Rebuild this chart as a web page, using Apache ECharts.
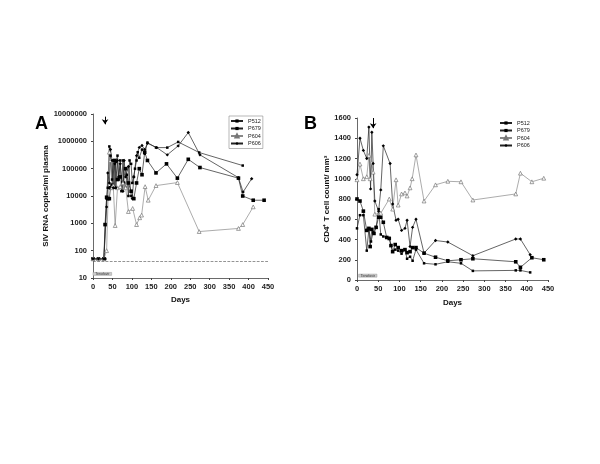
<!DOCTYPE html>
<html><head><meta charset="utf-8">
<script src="https://cdn.jsdelivr.net/npm/echarts@6/dist/echarts.min.js"></script>
<style>html,body{margin:0;padding:0;background:#fff}#c{width:600px;height:464px}</style>
</head><body><div id="c"></div>
<script>
// Panel A: SIV RNA copies/ml plasma, [day, value]
const A_P512 = [[0,50],[14,50],[28,50],[31,50],[35,8000],[38,20000],[42,650000],[45,300000],[49,40000],[52,200000],[56,20000],[59,180000],[63,300000],[66,40000],[70,200000],[73,15000],[77,200000],[80,30000],[84,20000],[87,60000],[91,10000],[94,200000],[98,150000],[101,30000],[105,50000],[108,100000],[112,200000],[115,400000],[119,250000],[126,500000],[133,350000],[140,900000],[162,590000],[191,590000],[219,950000],[273,390000],[385,130000]];
const A_P679 = [[0,50],[14,50],[28,50],[31,900],[35,9000],[38,8000],[42,8000],[45,20000],[49,25000],[56,200000],[63,40000],[70,50000],[77,30000],[84,100000],[91,30000],[98,15000],[105,8000],[112,30000],[119,100000],[126,60000],[133,400000],[140,200000],[162,70000],[189,150000],[217,45000],[245,220000],[275,110000],[374,45000],[385,10000],[412,7000],[440,7000]];
const A_P604 = [[0,50],[14,50],[28,50],[35,100],[42,400000],[45,200000],[49,20000],[52,24000],[57,830],[63,20000],[70,22000],[77,30000],[84,20000],[91,2700],[102,3500],[112,900],[120,1600],[125,2000],[134,22000],[142,7000],[162,24000],[217,31000],[273,500],[374,650],[385,900],[412,4000]];
const A_P606 = [[0,50],[14,50],[28,50],[31,50],[35,4000],[38,70000],[42,30000],[45,500000],[49,200000],[52,20000],[56,150000],[59,20000],[63,200000],[66,50000],[70,150000],[77,15000],[80,200000],[84,50000],[91,120000],[98,10000],[101,8000],[105,50000],[112,300000],[119,600000],[126,700000],[133,500000],[140,850000],[164,590000],[191,320000],[219,680000],[245,2100000],[275,320000],[374,47000],[386,14000],[408,43000]];
// Panel B: CD4+ T cell count / mm3, [day, value]
const B_P512 = [[0,510],[7,640],[15,640],[23,290],[28,500],[33,380],[38,470],[45,520],[51,700],[56,450],[62,430],[70,420],[76,415],[84,280],[90,300],[97,290],[105,260],[113,300],[118,210],[125,230],[131,190],[139,300],[158,165],[185,155],[214,180],[245,165],[273,90],[374,95],[385,95],[408,75]];
const B_P679 = [[0,800],[7,780],[15,680],[23,490],[28,510],[31,330],[35,500],[40,460],[45,520],[51,620],[56,620],[62,570],[70,420],[76,410],[80,340],[84,280],[90,350],[97,320],[105,290],[113,300],[118,270],[125,280],[131,320],[139,320],[158,265],[185,225],[214,190],[245,200],[273,210],[374,180],[385,125],[412,220],[440,200]];
const B_P604 = [[0,990],[7,1145],[15,1000],[23,1020],[28,1230],[31,1000],[35,1160],[38,1065],[42,650],[56,660],[76,800],[84,700],[92,990],[97,740],[105,850],[113,860],[118,830],[125,910],[130,1000],[139,1235],[158,780],[185,940],[214,975],[245,970],[273,790],[374,850],[385,1055],[412,970],[440,1005]];
const B_P606 = [[0,1040],[7,1400],[15,1280],[23,1200],[28,1510],[32,900],[35,1460],[38,1150],[42,780],[51,680],[56,890],[62,1325],[78,1150],[84,750],[92,590],[97,600],[105,490],[113,510],[118,590],[125,330],[131,520],[139,600],[158,265],[185,390],[214,375],[273,240],[374,405],[385,405],[408,250]];
const seriesNames = ['P512','P679','P604','P606'];
const xTicks = [0,450,50];
const yTicksA = [10,10000000];
const yTicksB = [0,1600,200];

const styles = {
  P512:{symbol:'rect',symbolSize:2.5,color:'#000',line:'#222'},
  P679:{symbol:'rect',symbolSize:3.6,color:'#000',line:'#222'},
  P604:{symbol:'triangle',symbolSize:3.8,color:'#fff',border:'#777',line:'#888'},
  P606:{symbol:'diamond',symbolSize:3.4,color:'#000',line:'#222'}
};
function mk(name, data, xi, yi){
  const s = styles[name];
  return {name, type:'line', xAxisIndex:xi, yAxisIndex:yi, data,
    symbol:s.symbol, symbolSize:s.symbolSize, showAllSymbol:true, animation:false,
    lineStyle:{width:0.7,color:s.line},
    itemStyle:{color:s.color,borderColor:s.border||s.color,borderWidth:s.border?0.7:0}};
}
const axisLbl = {fontSize:7.5,fontWeight:'bold',color:'#222',fontFamily:'Liberation Sans',formatter:v=>String(v)};
const nameSt = {fontSize:8,fontWeight:'bold',color:'#111',fontFamily:'Liberation Sans'};
const chart = echarts.init(document.getElementById('c'),null,{renderer:'canvas'});
const series = [
  mk('P512',A_P512,0,0), mk('P679',A_P679,0,0), mk('P604',A_P604,0,0), mk('P606',A_P606,0,0),
  mk('P512',B_P512,1,1), mk('P679',B_P679,1,1), mk('P604',B_P604,1,1), mk('P606',B_P606,1,1)
];
// annotations on panel A
series[0].markLine = {silent:true, symbol:'none', animation:false, label:{show:false},
  lineStyle:{type:'dashed',color:'#666',width:0.7}, data:[{yAxis:40}]};
series[1].markLine = {silent:true, symbol:['none','arrow'], symbolSize:5, animation:false, label:{show:false},
  lineStyle:{type:'solid',color:'#000',width:1}, data:[[{coord:[31,8000000]},{coord:[31,4200000]}]]};
series[2].markArea = {silent:true, animation:false, itemStyle:{color:'#ccc',borderColor:'#999',borderWidth:0.5},
  label:{show:true,position:'inside',fontSize:3.5,color:'#333',formatter:'Tenofovir'},
  data:[[{coord:[0,12.5]},{coord:[48,16]}]]};
// annotations on panel B
series[5].markLine = {silent:true, symbol:['none','arrow'], symbolSize:5, animation:false, label:{show:false},
  lineStyle:{type:'solid',color:'#000',width:1}, data:[[{coord:[38,1600]},{coord:[38,1500]}]]};
series[6].markArea = {silent:true, animation:false, itemStyle:{color:'#ccc',borderColor:'#999',borderWidth:0.5},
  label:{show:true,position:'inside',fontSize:3.5,color:'#333',formatter:'Tenofovir'},
  data:[[{coord:[4,28]},{coord:[47,58]}]]};

chart.setOption({
  animation:false,
  backgroundColor:'#fff',
  title:[
    {text:'A',left:30,top:110,textStyle:{fontSize:18,fontWeight:'bold',color:'#000',fontFamily:'Liberation Sans'}},
    {text:'B',left:299,top:110,textStyle:{fontSize:18,fontWeight:'bold',color:'#000',fontFamily:'Liberation Sans'}}
  ],
  grid:[
    {left:93,top:114,width:175,height:164},
    {left:357,top:118,width:191,height:162}
  ],
  legend:[
    {orient:'vertical',left:229,top:116,itemWidth:12,itemHeight:4,itemGap:1.5,padding:[2,2,2,1],
     borderColor:'#888',borderWidth:0.6,data:seriesNames,textStyle:{fontSize:5.5,color:'#222',fontFamily:'Liberation Sans'}},
    {orient:'vertical',left:499,top:120,itemWidth:12,itemHeight:4,itemGap:1.5,padding:[0,0,0,0],
     data:seriesNames,textStyle:{fontSize:5.5,color:'#222',fontFamily:'Liberation Sans'}}
  ],
  xAxis:[
    {gridIndex:0,type:'value',min:xTicks[0],max:xTicks[1],interval:xTicks[2],name:'Days',nameLocation:'middle',nameGap:18,nameTextStyle:nameSt,
     axisLine:{lineStyle:{color:'#444',width:0.8}},axisTick:{show:true,length:2,lineStyle:{color:'#444'}},axisLabel:Object.assign({margin:5},axisLbl),splitLine:{show:false}},
    {gridIndex:1,type:'value',min:xTicks[0],max:xTicks[1],interval:xTicks[2],name:'Days',nameLocation:'middle',nameGap:19,nameTextStyle:nameSt,
     axisLine:{lineStyle:{color:'#444',width:0.8}},axisTick:{show:true,length:2,lineStyle:{color:'#444'}},axisLabel:Object.assign({margin:5},axisLbl),splitLine:{show:false}}
  ],
  yAxis:[
    {gridIndex:0,type:'log',logBase:10,min:yTicksA[0],max:yTicksA[1],name:'SIV RNA copies/ml plasma',nameLocation:'middle',nameGap:30,nameTextStyle:nameSt,
     axisLine:{show:true,lineStyle:{color:'#444',width:0.8}},axisTick:{show:true,length:2,lineStyle:{color:'#444'}},
     axisLabel:Object.assign({margin:6},axisLbl),splitLine:{show:false}},
    {gridIndex:1,type:'value',min:yTicksB[0],max:yTicksB[1],interval:yTicksB[2],name:'CD4\u207A T cell count/ mm\u00B3',nameLocation:'middle',nameGap:22,nameTextStyle:nameSt,
     axisLine:{show:true,lineStyle:{color:'#444',width:0.8}},axisTick:{show:true,length:2,lineStyle:{color:'#444'}},
     axisLabel:Object.assign({margin:6},axisLbl),splitLine:{show:false}}
  ],
  series
});
</script></body></html>
